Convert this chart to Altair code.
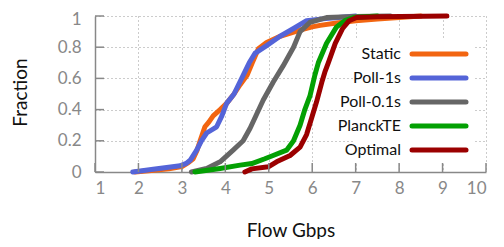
import altair as alt
import pandas as pd

series = ["Static", "Poll-1s", "Poll-0.1s", "PlanckTE", "Optimal"]
colors = ["#f26511", "#5464d8", "#666666", "#03a003", "#9b0000"]

static_x = [1.92, 2.3, 2.7, 3.0, 3.15, 3.26, 3.35, 3.42, 3.53, 3.62, 3.72, 3.88, 4.03, 4.2, 4.34, 4.5, 4.62, 4.76, 4.95, 5.26, 5.5, 5.72, 6.0, 6.18, 6.56, 7.0, 7.5, 8.0, 8.5]
static_y = [0.0, 0.01, 0.02, 0.035, 0.06, 0.085, 0.14, 0.2, 0.29, 0.32, 0.36, 0.40, 0.44, 0.50, 0.56, 0.62, 0.70, 0.79, 0.83, 0.87, 0.89, 0.91, 0.93, 0.94, 0.955, 0.97, 0.98, 0.99, 1.0]

poll1_x = [1.87, 2.34, 2.96, 3.1, 3.19, 3.34, 3.45, 3.57, 3.8, 3.92, 4.03, 4.2, 4.41, 4.55, 4.68, 4.95, 5.26, 5.57, 5.87, 6.18, 6.6, 7.0]
poll1_y = [0.0, 0.017, 0.04, 0.055, 0.075, 0.14, 0.2, 0.25, 0.29, 0.36, 0.44, 0.50, 0.62, 0.70, 0.76, 0.81, 0.87, 0.92, 0.97, 0.98, 0.99, 1.0]

poll01_x = [3.22, 3.57, 3.88, 4.18, 4.41, 4.57, 4.72, 4.87, 5.1, 5.33, 5.57, 5.72, 5.95, 6.33, 7.0, 7.8]
poll01_y = [0.0, 0.023, 0.065, 0.14, 0.2, 0.28, 0.37, 0.46, 0.575, 0.68, 0.80, 0.90, 0.96, 0.99, 0.997, 1.0]

planck_x = [3.30, 3.88, 4.34, 4.61, 4.91, 5.10, 5.41, 5.57, 5.72, 5.83, 5.95, 6.06, 6.14, 6.33, 6.56, 6.75, 6.95, 7.5]
planck_y = [0.0, 0.023, 0.044, 0.054, 0.085, 0.106, 0.14, 0.2, 0.30, 0.40, 0.49, 0.62, 0.70, 0.825, 0.93, 0.97, 0.99, 1.0]

optimal_x = [4.45, 4.61, 4.99, 5.18, 5.49, 5.72, 5.87, 5.99, 6.1, 6.22, 6.29, 6.37, 6.53, 6.7, 6.85, 7.02, 7.5, 9.1]
optimal_y = [0.0, 0.02, 0.033, 0.065, 0.106, 0.16, 0.24, 0.35, 0.45, 0.575, 0.64, 0.70, 0.825, 0.92, 0.97, 0.99, 0.995, 1.0]

x_ticks = [1, 2, 3, 4, 5, 6, 7, 8, 9, 10]
y_ticks = [0, 0.2, 0.4, 0.6, 0.8, 1.0]

FONT = "Lato"
W, H = 391, 156

xs = [static_x, poll1_x, poll01_x, planck_x, optimal_x]
ys = [static_y, poll1_y, poll01_y, planck_y, optimal_y]
rows = []
for name, xv, yv in zip(series, xs, ys):
    for i, (a, b) in enumerate(zip(xv, yv)):
        rows.append({"series": name, "x": a, "y": b, "i": i})
df = pd.DataFrame(rows)

xscale = alt.Scale(domain=[1, 10], nice=False, zero=False)
yscale = alt.Scale(domain=[0, 1], nice=False)
cscale = alt.Scale(domain=series, range=colors)

lines = alt.Chart(df).mark_line(strokeWidth=5, strokeCap="round", strokeJoin="round").encode(
    x=alt.X("x:Q", scale=xscale, axis=alt.Axis(
        values=x_ticks, title="Flow Gbps", ticks=False, labelPadding=8,
        titleY=64, titleBaseline="alphabetic")),
    y=alt.Y("y:Q", scale=yscale, axis=alt.Axis(
        values=y_ticks, title="Fraction", format="~g", ticks=False, labelPadding=14,
        labelOffset={"condition": {"test": "datum.value >= 1", "value": 3}, "value": 0},
        titleX=-69, titleY=76, titleAngle=270, titleBaseline="alphabetic", titleAlign="center")),
    color=alt.Color("series:N", scale=cscale, legend=None),
    detail="series:N",
    order="i:Q",
)

bg = alt.Chart(pd.DataFrame({"a": [0]})).mark_rect(color="white").encode(
    x=alt.value(258), x2=alt.value(379), y=alt.value(24), y2=alt.value(146)
)

xt = alt.Chart(pd.DataFrame({"v": x_ticks})).mark_rule(color="#888888", strokeWidth=1.5).encode(
    x=alt.X("v:Q", scale=xscale), y=alt.value(H), y2=alt.value(H - 9)
)
yt = alt.Chart(pd.DataFrame({"v": y_ticks})).mark_rule(color="#888888", strokeWidth=1.5).encode(
    y=alt.Y("v:Q", scale=yscale, axis=None), x=alt.value(0), x2=alt.value(9)
)

leg_df = pd.DataFrame({"series": series})
lscale = alt.Scale(type="point", domain=series, range=[38, 134], padding=0)
leg_text = alt.Chart(leg_df).mark_text(align="right", baseline="middle", font=FONT, fontSize=16, color="#111111").encode(
    y=alt.Y("series:N", scale=lscale, axis=None, sort=series),
    x=alt.value(306),
    text="series:N",
)
leg_line = alt.Chart(leg_df).mark_rule(strokeWidth=5, strokeCap="round").encode(
    y=alt.Y("series:N", scale=lscale, axis=None, sort=series),
    x=alt.value(317), x2=alt.value(371),
    color=alt.Color("series:N", scale=cscale, legend=None),
)

chart = alt.layer(lines, bg, xt, yt, leg_text, leg_line).resolve_scale(y="independent").properties(
    width=W, height=H,
    autosize=alt.AutoSizeParams(type="none"),
    padding={"left": 87, "top": 8, "right": 10, "bottom": 67},
).configure_view(stroke=None).configure_axis(
    labelFont=FONT, titleFont=FONT, labelFontSize=17, titleFontSize=19,
    labelColor="#888888", titleColor="#111111", titleFontWeight="normal",
    domainColor="#888888", domainWidth=1.5,
    gridColor="#999999", gridDash=[1, 3], gridWidth=1,
)

chart.save("out.html", embed_options={"renderer": "svg", "actions": False})
